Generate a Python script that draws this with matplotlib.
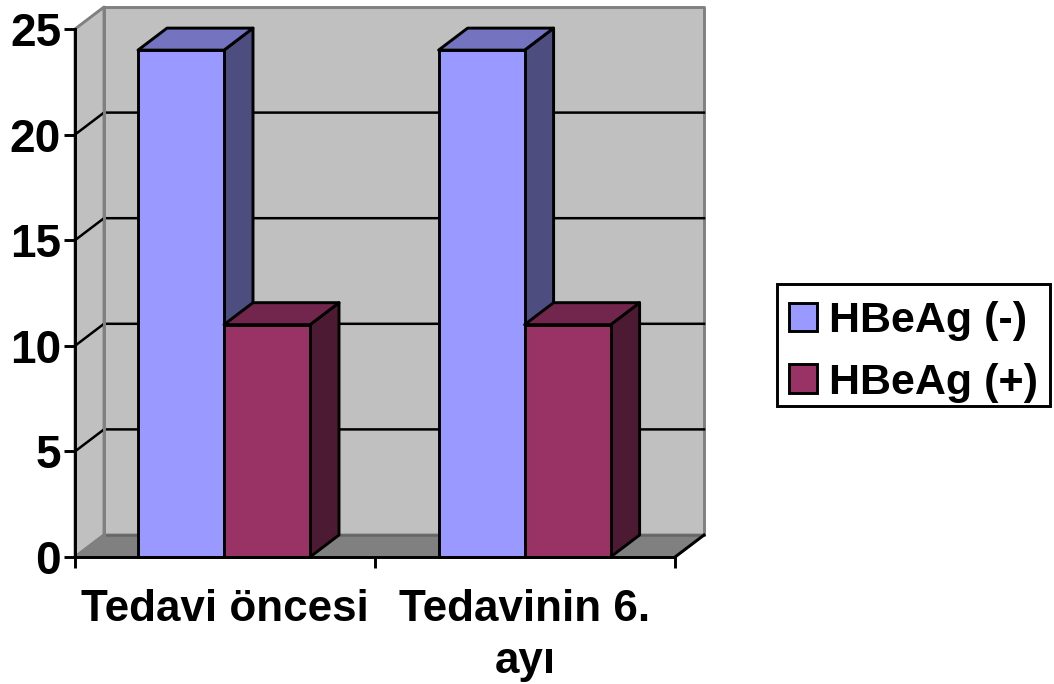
import matplotlib
matplotlib.use("Agg")
import matplotlib.pyplot as plt
from matplotlib.patches import Polygon, Patch, Rectangle

categories = ["Tedavi öncesi", "Tedavinin 6.\nayı"]
series_names = ["HBeAg (-)", "HBeAg (+)"]
hbeag_neg = [24, 24]
hbeag_pos = [11, 11]
yticks = [0, 5, 10, 15, 20, 25]

W, H = 1054, 684
plt.rcParams['font.family'] = ['Liberation Sans', 'DejaVu Sans']
fig = plt.figure(figsize=(W / 100, H / 100), dpi=100, facecolor='white')
ax = fig.add_axes([75 / W, (H - 557) / H, 600 / W, 528 / H])
ax.set_xlim(0, 2)
ax.set_ylim(0, 25)
ax.patch.set_visible(False)
for s in ax.spines.values():
    s.set_visible(False)

LW = 2.1
GRID = 1.8
dx = 29 / 300
dy = 22 / (528 / 25)
bar_w = 86 / 300
gap_left = 63 / 300
GRAY = '#808080'


def poly(pts, fc, z, ec='black', lw=LW):
    ax.add_patch(Polygon(pts, closed=True, facecolor=fc, edgecolor=ec,
                         linewidth=lw, joinstyle='round', zorder=z, clip_on=False))


# walls and floor
poly([(dx, dy), (2 + dx, dy), (2 + dx, 25 + dy), (dx, 25 + dy)], '#c0c0c0', 1, GRAY)
poly([(0, 0), (dx, dy), (dx, 25 + dy), (0, 25)], '#c0c0c0', 1, GRAY)
poly([(0, 0), (2, 0), (2 + dx, dy), (dx, dy)], GRAY, 1, GRAY)
ax.plot([dx, 2 + dx], [dy, dy], color='#666666', lw=GRID, zorder=1.4, clip_on=False)
ax.plot([2, 2 + dx], [0, dy], color='black', lw=LW, zorder=1.4, clip_on=False)

# gridlines
for v in yticks[1:-1]:
    ax.plot([0, dx, 2 + dx], [v, v + dy, v + dy], color='black', lw=GRID,
            zorder=1.5, clip_on=False, solid_joinstyle='round')
ax.plot([dx, dx], [dy, 25 + dy], color=GRAY, lw=LW, zorder=1.6, clip_on=False)

# bars
series = [(hbeag_neg, '#9999ff', '#7373bf', '#4d4d80'),
          (hbeag_pos, '#993366', '#73264d', '#4d1a33')]
for i, (vals, front, top, side) in enumerate(series):
    for c, v in enumerate(vals):
        x0 = c * 1.002 + gap_left + i * bar_w
        x1 = x0 + bar_w
        z = 3 + i + c * 2
        poly([(x1, 0), (x1 + dx, dy), (x1 + dx, v + dy), (x1, v)], side, z)
        poly([(x0, v), (x1, v), (x1 + dx, v + dy), (x0 + dx, v + dy)], top, z)
        ax.bar(x0, v, width=bar_w, align='edge', color=front, edgecolor='black',
               linewidth=LW, zorder=z + 0.5, clip_on=False)

# axes
ax.set_xticks([0, 1, 2])
ax.set_xticklabels([])
ax.set_yticks(yticks)
ax.set_yticklabels([str(v) for v in yticks])
ax.tick_params(axis='both', length=8, width=LW, color='black')
ax.tick_params(axis='y', labelsize=33, pad=2)
for lbl in ax.get_yticklabels():
    lbl.set_fontweight('bold')
ax.plot([0, 2], [0, 0], color='black', lw=LW, zorder=9, clip_on=False)
ax.plot([0, 0], [0, 25], color='black', lw=LW, zorder=9, clip_on=False)
ax.set_xticks([0.5, 1.5], minor=True)
ax.set_xticklabels(categories, minor=True, fontsize=31.7, fontweight='bold',
                   linespacing=1.35)
ax.tick_params(axis='x', which='minor', length=0, pad=23)

# legend
fig.add_artist(Rectangle((777 / W, 1 - 406 / H), 273 / W, 122 / H,
                         transform=fig.transFigure, facecolor='white',
                         edgecolor='black', linewidth=LW, zorder=1))
handles = [Patch(facecolor=s[1], edgecolor='black', linewidth=LW) for s in series]
leg = fig.legend(handles, series_names, loc='upper left',
                 bbox_to_anchor=(777 / W, 1 - 289 / H),
                 bbox_transform=fig.transFigure,
                 prop={'size': 31, 'weight': 'bold'}, frameon=False,
                 handlelength=0.65, handleheight=0.65, handletextpad=0.28,
                 labelspacing=0.5, borderpad=0.28, borderaxespad=0)
leg.set_zorder(2)

fig.savefig('out.png', dpi=100, facecolor='white')
